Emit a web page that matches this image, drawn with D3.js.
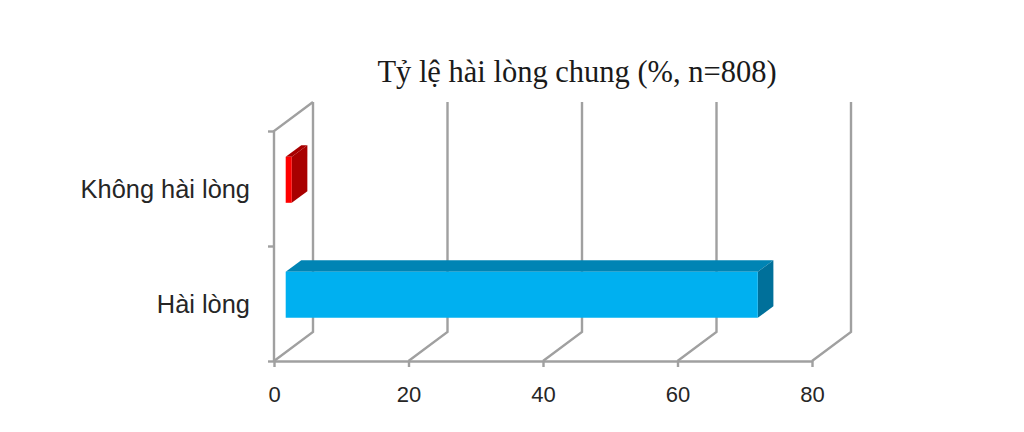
<!DOCTYPE html>
<html>
<head>
<meta charset="utf-8">
<script src="https://cdn.jsdelivr.net/npm/d3@7"></script>
<style>
html,body{margin:0;background:#fff;}
svg{display:block;}
</style>
</head>
<body>
<svg id="chart"></svg>
<script>
const categories = ["Hài lòng", "Không hài lòng"];
const values = [70.2, 0.9];
const xTicks = [0, 20, 40, 60, 80];
const titleText = "Tỷ lệ hài lòng chung (%, n=808)";
const frontColors = ["#00b0f0", "#ff0000"];
const topColors = ["#0084b4", "#a80000"];
const sideColors = ["#00709a", "#a80000"];

const w = 1024, h = 432;
const svg = d3.select("#chart").attr("width", w).attr("height", h);

const x = d3.scaleLinear().domain([0, 80]).range([274, 812]);
const y = d3.scaleBand().domain(categories).range([361, 131]).paddingInner(0.6).paddingOuter(0.3);
const rowY = d3.scaleBand().domain(categories).range([361, 131]);

// depth 0 = front plane, 1 = back wall
const depthX = d3.scaleLinear().domain([0, 1]).range([0, 39]);
const depthY = d3.scaleLinear().domain([0, 1]).range([0, -29]);
const pt = (px, py, d) => [px + depthX(d), py + depthY(d)];
const line = d3.line();

const wallColor = "#a0a0a0";
const grid = svg.append("g").attr("fill", "none").attr("stroke", wallColor).attr("stroke-width", 2.4);

// back wall lines and floor diagonals
grid.selectAll("path.grid").data(xTicks).join("path").attr("class", "grid")
  .attr("d", t => line([pt(x(t), rowY.range()[0], 0), pt(x(t), rowY.range()[0], 1), pt(x(t), rowY.range()[1], 1)]));

// left side wall
grid.append("path")
  .attr("d", line([pt(x(0), rowY.range()[0], 0), pt(x(0), rowY.range()[1], 0), pt(x(0), rowY.range()[1], 1)]));

// x axis
const xAxis = svg.append("g").attr("transform", "translate(0,361)")
  .call(d3.axisBottom(x).tickValues(xTicks).tickSize(6).tickPadding(19).tickSizeOuter(0));
xAxis.select(".domain").attr("stroke", wallColor).attr("stroke-width", 2.4);
xAxis.selectAll("line").attr("stroke", wallColor).attr("stroke-width", 2.4);
xAxis.selectAll("text").attr("font-family", "Liberation Sans").attr("font-size", 22).attr("fill", "#262626");

// y axis: labels on the rows, ticks on the row edges
const yAxis = svg.append("g").attr("transform", "translate(250,0)")
  .call(d3.axisLeft(rowY).tickSize(0).tickPadding(0));
yAxis.select(".domain").remove();
yAxis.selectAll("text").attr("font-family", "Liberation Sans").attr("font-size", 25.4).attr("fill", "#262626").attr("dy", "0.38em");

const edges = svg.append("g").attr("transform", "translate(274,0)")
  .call(d3.axisLeft(d3.scaleLinear().domain([0, 2]).range([361, 131])).ticks(2).tickSize(6).tickSizeOuter(0).tickFormat(""));
edges.select(".domain").remove();
edges.selectAll("line").attr("stroke", wallColor).attr("stroke-width", 2.4);

// bars as three faces between depth 0.3 and 0.7
const d0 = 0.3, d1 = 0.7;
const bars = svg.append("g").selectAll("g").data(categories).join("g");

bars.append("path").attr("fill", (c, i) => topColors[i])
  .attr("d", (c, i) => {
    const yt = y(c), a = x(0), b = x(values[i]);
    return line([pt(a, yt, d0), pt(a, yt, d1), pt(b, yt, d1), pt(b, yt, d0)]) + "Z";
  });
bars.append("path").attr("fill", (c, i) => sideColors[i])
  .attr("d", (c, i) => {
    const yt = y(c), yb = yt + y.bandwidth(), b = x(values[i]);
    return line([pt(b, yt, d0), pt(b, yt, d1), pt(b, yb, d1), pt(b, yb, d0)]) + "Z";
  });
bars.append("path").attr("fill", (c, i) => frontColors[i])
  .attr("d", (c, i) => {
    const yt = y(c), yb = yt + y.bandwidth(), a = x(0), b = x(values[i]);
    return line([pt(a, yt, d0), pt(b, yt, d0), pt(b, yb, d0), pt(a, yb, d0)]) + "Z";
  });

svg.append("text").attr("x", 577).attr("y", 82).attr("text-anchor", "middle")
  .attr("font-family", "Liberation Serif").attr("font-size", 30.5).attr("fill", "#1a1a1a")
  .text(titleText);
</script>
</body>
</html>
